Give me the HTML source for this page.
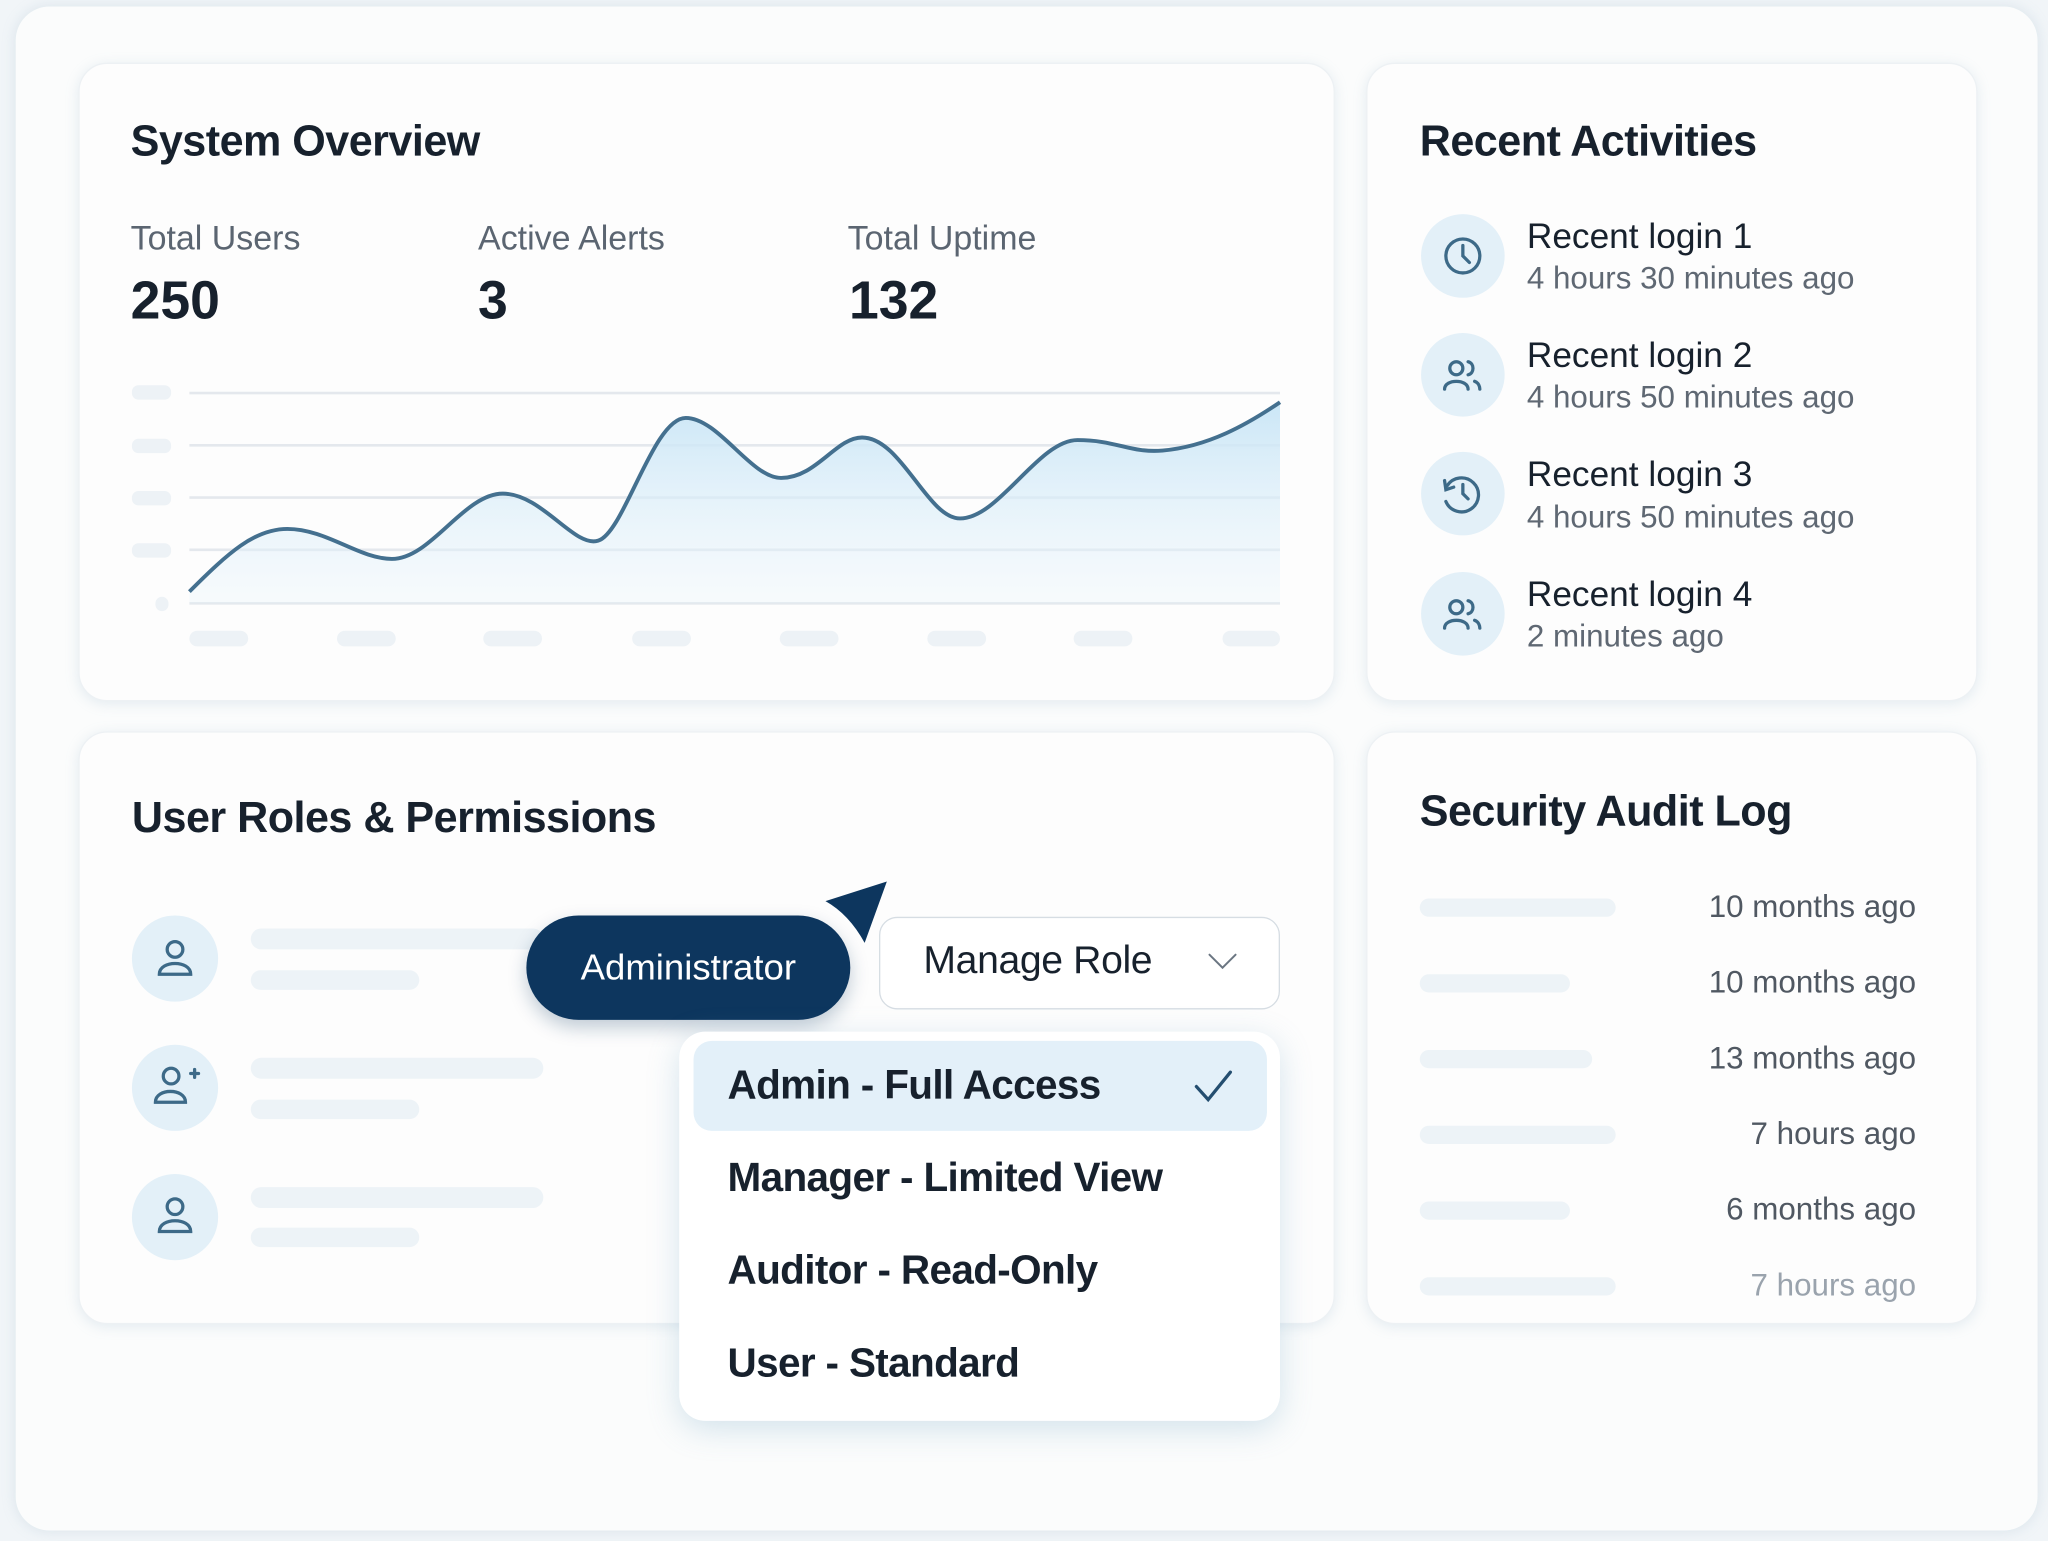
<!DOCTYPE html>
<html><head><meta charset="utf-8"><style>
html,body{margin:0;padding:0;width:2048px;height:1541px;overflow:hidden;background:#f1f5f8;font-family:"Liberation Sans",sans-serif;}
#s{position:absolute;left:0;top:0;width:1568px;height:1180px;transform:scale(1.30612,1.30593);transform-origin:0 0;}
.a{position:absolute;}
.card{position:absolute;background:#fdfdfd;border-radius:22px;box-shadow:0 2px 10px rgba(120,160,190,.18);border:1px solid #edf1f4;}
.t{position:absolute;color:#17212d;font-size:33px;font-weight:600;white-space:nowrap;letter-spacing:-0.4px;}
.lab{position:absolute;color:#5b6571;font-size:26px;white-space:nowrap;}
.num{position:absolute;color:#17212d;font-size:41px;font-weight:700;white-space:nowrap;}
.ic{position:absolute;width:64px;height:64px;border-radius:50%;background:#e3f0f8;}
.ph{position:absolute;background:#edf3f7;border-radius:8px;}
.rt{position:absolute;color:#17212d;font-size:27px;white-space:nowrap;}
.rs{position:absolute;color:#5f6873;font-size:24px;white-space:nowrap;}
.au{position:absolute;right:0;width:170px;text-align:right;color:#505862;font-size:24px;}
.dd{position:absolute;left:557px;color:#17212d;font-size:31px;font-weight:600;white-space:nowrap;letter-spacing:-0.5px;}
</style></head><body><div id="s">
<div class="a" style="left:12px;top:5px;width:1548px;height:1167px;background:#fbfcfc;border-radius:26px;box-shadow:0 0 10px rgba(150,180,200,.25);"></div>

<div class="card" style="left:60px;top:48px;width:960px;height:487px;"></div>
<div class="t" style="left:100px;top:89px;">System Overview</div>
<div class="lab" style="left:100px;top:167px;">Total Users</div>
<div class="lab" style="left:366px;top:167px;">Active Alerts</div>
<div class="lab" style="left:649px;top:167px;">Total Uptime</div>
<div class="num" style="left:100px;top:207px;">250</div>
<div class="num" style="left:366px;top:207px;">3</div>
<div class="num" style="left:650px;top:207px;">132</div>
<svg class="a" style="left:0;top:0" width="1568" height="1180">
<defs><linearGradient id="g" x1="0" y1="0" x2="0" y2="1"><stop offset="0" stop-color="#c8e5f6" stop-opacity=".95"/><stop offset="1" stop-color="#e8f4fb" stop-opacity=".3"/></linearGradient></defs>
<g stroke="#e4e8ed" stroke-width="2">
<line x1="145" y1="301" x2="980" y2="301"/><line x1="145" y1="341" x2="980" y2="341"/><line x1="145" y1="381" x2="980" y2="381"/><line x1="145" y1="421" x2="980" y2="421"/><line x1="145" y1="462" x2="980" y2="462"/></g>
<g fill="#edf2f6"><rect x="101" y="295" width="30" height="11" rx="5"/><rect x="101" y="336" width="30" height="11" rx="5"/><rect x="101" y="376" width="30" height="11" rx="5"/><rect x="101" y="416" width="30" height="11" rx="5"/><rect x="119" y="457" width="10" height="11" rx="5"/>
<rect x="145" y="483" width="45" height="12" rx="6"/><rect x="258" y="483" width="45" height="12" rx="6"/><rect x="370" y="483" width="45" height="12" rx="6"/><rect x="484" y="483" width="45" height="12" rx="6"/><rect x="597" y="483" width="45" height="12" rx="6"/><rect x="710" y="483" width="45" height="12" rx="6"/><rect x="822" y="483" width="45" height="12" rx="6"/><rect x="936" y="483" width="44" height="12" rx="6"/></g>
<path d="M145 453 C175 423,195 405,220 405 C250 405,275 428,300 428 C330 428,355 378,385 378 C415 378,440 420,458 414 C478 408,500 320,525 320 C550 320,575 366,598 366 C625 366,640 335,660 335 C690 335,710 397,735 397 C765 397,795 337,825 337 C855 337,865 347,890 345 C925 342,955 325,980 308 L980 462 L145 462 Z" fill="url(#g)"/>
<path d="M145 453 C175 423,195 405,220 405 C250 405,275 428,300 428 C330 428,355 378,385 378 C415 378,440 420,458 414 C478 408,500 320,525 320 C550 320,575 366,598 366 C625 366,640 335,660 335 C690 335,710 397,735 397 C765 397,795 337,825 337 C855 337,865 347,890 345 C925 342,955 325,980 308" fill="none" stroke="#44708f" stroke-width="3"/>
</svg>

<div class="card" style="left:1046px;top:48px;width:466px;height:487px;"></div>
<div class="t" style="left:1087px;top:89px;">Recent Activities</div>
<div class="ic" style="left:1088px;top:164px;"></div>
<div class="ic" style="left:1088px;top:255px;"></div>
<div class="ic" style="left:1088px;top:346px;"></div>
<div class="ic" style="left:1088px;top:438px;"></div>
<div class="rt" style="left:1169px;top:166px;">Recent login 1</div><div class="rs" style="left:1169px;top:200px;">4 hours 30 minutes ago</div>
<div class="rt" style="left:1169px;top:257px;">Recent login 2</div><div class="rs" style="left:1169px;top:291px;">4 hours 50 minutes ago</div>
<div class="rt" style="left:1169px;top:348px;">Recent login 3</div><div class="rs" style="left:1169px;top:383px;">4 hours 50 minutes ago</div>
<div class="rt" style="left:1169px;top:440px;">Recent login 4</div><div class="rs" style="left:1169px;top:474px;">2 minutes ago</div>

<div class="card" style="left:60px;top:560px;width:960px;height:452px;"></div>
<div class="t" style="left:101px;top:607px;">User Roles &amp; Permissions</div>
<div class="ic" style="left:101px;top:701px;width:66px;height:66px;"></div>
<div class="ic" style="left:101px;top:800px;width:66px;height:66px;"></div>
<div class="ic" style="left:101px;top:899px;width:66px;height:66px;"></div>
<div class="ph" style="left:192px;top:711px;width:224px;height:16px;"></div><div class="ph" style="left:192px;top:743px;width:129px;height:15px;"></div>
<div class="ph" style="left:192px;top:810px;width:224px;height:16px;"></div><div class="ph" style="left:192px;top:842px;width:129px;height:15px;"></div>
<div class="ph" style="left:192px;top:909px;width:224px;height:16px;"></div><div class="ph" style="left:192px;top:940px;width:129px;height:15px;"></div>
<div class="a" style="left:403px;top:701px;width:248px;height:80px;border-radius:40px;background:#0d365e;box-shadow:0 6px 14px rgba(13,54,94,.25);color:#fff;font-size:28px;line-height:80px;text-align:center;">Administrator</div>
<div class="a" style="left:673px;top:702px;width:305px;height:69px;border:1.5px solid #d6dde3;border-radius:14px;background:#fff;"></div>
<div class="a" style="left:707px;top:719px;font-size:30px;color:#17212d;letter-spacing:-0.3px;">Manage Role</div>

<div class="a" style="left:520px;top:790px;width:460px;height:298px;background:#fff;border-radius:20px;box-shadow:0 6px 24px rgba(120,170,200,.3);"></div>
<div class="a" style="left:531px;top:797px;width:439px;height:69px;background:#e3f0f9;border-radius:14px;"></div>
<div class="dd" style="top:813px;">Admin - Full Access</div>
<div class="dd" style="top:884px;">Manager - Limited View</div>
<div class="dd" style="top:955px;">Auditor - Read-Only</div>
<div class="dd" style="top:1026px;">User - Standard</div>

<div class="card" style="left:1046px;top:560px;width:466px;height:452px;"></div>
<div class="t" style="left:1087px;top:602px;">Security Audit Log</div>
<div class="ph" style="left:1087px;top:688px;width:150px;height:14px;"></div>
<div class="ph" style="left:1087px;top:746px;width:115px;height:14px;"></div>
<div class="ph" style="left:1087px;top:804px;width:132px;height:14px;"></div>
<div class="ph" style="left:1087px;top:862px;width:150px;height:14px;"></div>
<div class="ph" style="left:1087px;top:920px;width:115px;height:14px;"></div>
<div class="ph" style="left:1087px;top:978px;width:150px;height:14px;"></div>
<div class="a" style="left:1297px;top:681px;width:170px;height:330px;">
<div class="au" style="top:0">10 months ago</div>
<div class="au" style="top:58px">10 months ago</div>
<div class="au" style="top:116px">13 months ago</div>
<div class="au" style="top:174px">7 hours ago</div>
<div class="au" style="top:232px">6 months ago</div>
<div class="au" style="top:290px;color:#9aa3ad">7 hours ago</div>
</div>

<svg class="a" style="left:0;top:0" width="1568" height="1180" fill="none" stroke="#3d6a88" stroke-width="2.5" stroke-linecap="round">
<circle cx="1120" cy="196" r="13"/><path d="M1120 188 V196 L1125 201"/>
<circle cx="1115" cy="282" r="5"/><path d="M1106 298 C1106 290,1124 290,1124 298"/><path d="M1124 277 C1129 278,1129 286,1124 287 M1129 292 C1132 293,1133 296,1133 298"/>
<path d="M1108 372 A13 13 0 1 1 1107 384"/><path d="M1106 368 L1107 375 L1113 373"/><path d="M1120 371 V378 L1124 382"/>
<circle cx="1115" cy="465" r="5"/><path d="M1106 481 C1106 473,1124 473,1124 481"/><path d="M1124 460 C1129 461,1129 469,1124 470 M1129 475 C1132 476,1133 479,1133 481"/>
<circle cx="134" cy="727" r="6"/><path d="M122 746 C122 735,146 735,146 746 Z"/>
<circle cx="131" cy="824" r="6"/><path d="M119 844 C119 833,142 833,142 844 Z"/><path d="M146 822 H152 M149 819 V825"/>
<circle cx="134" cy="924" r="6"/><path d="M122 943 C122 932,146 932,146 943 Z"/>
<path d="M926 731 L936 741 L946 731" stroke="#6b7682" stroke-width="1.5"/>
<path d="M916 832 L925 842 L942 821" stroke="#244e70" stroke-width="2.5"/>
<path d="M679 675 L632 690 Q650 700,662 722 Z" fill="#0d365e" stroke="none"/>
</svg>
</div></body></html>
